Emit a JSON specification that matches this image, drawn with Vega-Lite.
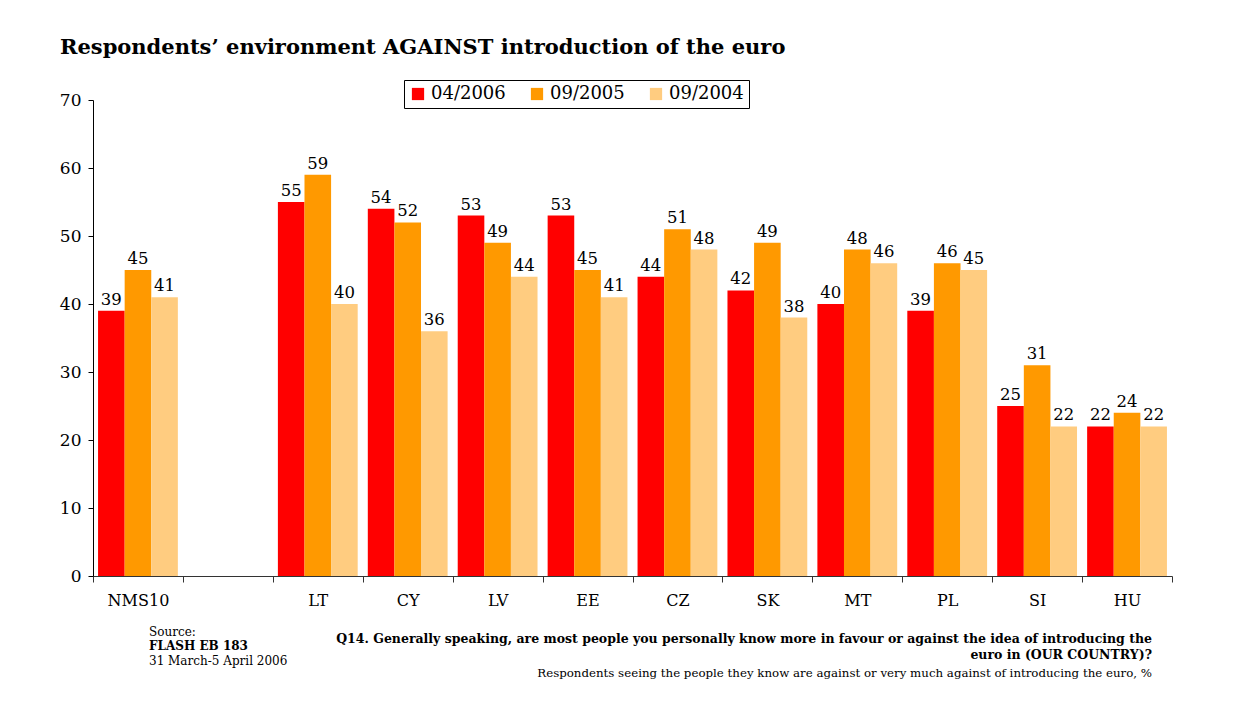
{
  "$schema": "https://vega.github.io/schema/vega-lite/v6.json",
  "width": 1079,
  "height": 476,
  "autosize": {"type": "none"},
  "padding": {"left": 93, "top": 100, "right": 66, "bottom": 151},
  "background": "white",
  "config": {"font": "DejaVu Serif", "view": {"stroke": null}, "text": {"font": "DejaVu Serif"}},
  "title": {
    "text": "Respondents’ environment AGAINST introduction of the euro",
    "anchor": "start",
    "frame": "group",
    "font": "DejaVu Serif",
    "fontSize": 21,
    "fontWeight": "bold",
    "color": "black",
    "dx": -33,
    "offset": 22
  },
  "layer": [
    {
      "data": {
        "values": [
          {"country": "NMS10", "wave": "04/2006", "value": 39},
          {"country": "NMS10", "wave": "09/2005", "value": 45},
          {"country": "NMS10", "wave": "09/2004", "value": 41},
          {"country": "LT", "wave": "04/2006", "value": 55},
          {"country": "LT", "wave": "09/2005", "value": 59},
          {"country": "LT", "wave": "09/2004", "value": 40},
          {"country": "CY", "wave": "04/2006", "value": 54},
          {"country": "CY", "wave": "09/2005", "value": 52},
          {"country": "CY", "wave": "09/2004", "value": 36},
          {"country": "LV", "wave": "04/2006", "value": 53},
          {"country": "LV", "wave": "09/2005", "value": 49},
          {"country": "LV", "wave": "09/2004", "value": 44},
          {"country": "EE", "wave": "04/2006", "value": 53},
          {"country": "EE", "wave": "09/2005", "value": 45},
          {"country": "EE", "wave": "09/2004", "value": 41},
          {"country": "CZ", "wave": "04/2006", "value": 44},
          {"country": "CZ", "wave": "09/2005", "value": 51},
          {"country": "CZ", "wave": "09/2004", "value": 48},
          {"country": "SK", "wave": "04/2006", "value": 42},
          {"country": "SK", "wave": "09/2005", "value": 49},
          {"country": "SK", "wave": "09/2004", "value": 38},
          {"country": "MT", "wave": "04/2006", "value": 40},
          {"country": "MT", "wave": "09/2005", "value": 48},
          {"country": "MT", "wave": "09/2004", "value": 46},
          {"country": "PL", "wave": "04/2006", "value": 39},
          {"country": "PL", "wave": "09/2005", "value": 46},
          {"country": "PL", "wave": "09/2004", "value": 45},
          {"country": "SI", "wave": "04/2006", "value": 25},
          {"country": "SI", "wave": "09/2005", "value": 31},
          {"country": "SI", "wave": "09/2004", "value": 22},
          {"country": "HU", "wave": "04/2006", "value": 22},
          {"country": "HU", "wave": "09/2005", "value": 24},
          {"country": "HU", "wave": "09/2004", "value": 22}
        ]
      },
      "encoding": {
        "x": {
          "field": "country",
          "type": "nominal",
          "scale": {
            "domain": ["NMS10", "", "LT", "CY", "LV", "EE", "CZ", "SK", "MT", "PL", "SI", "HU"],
            "paddingInner": 0,
            "paddingOuter": 0
          },
          "axis": {
            "title": null,
            "labelAngle": 0,
            "tickBand": "extent",
            "tickSize": 6,
            "tickColor": "#333333",
            "domainColor": "#333333",
            "labelFontSize": 16,
            "labelColor": "black",
            "labelPadding": 10
          }
        },
        "xOffset": {
          "field": "wave",
          "type": "nominal",
          "sort": ["04/2006", "09/2005", "09/2004"],
          "scale": {"paddingInner": 0, "paddingOuter": 0.19}
        },
        "y": {
          "field": "value",
          "type": "quantitative",
          "scale": {"domain": [0, 70], "nice": false},
          "axis": {
            "title": null,
            "values": [0, 10, 20, 30, 40, 50, 60, 70],
            "grid": false,
            "domainColor": "black",
            "tickColor": "black",
            "tickSize": 5,
            "labelFontSize": 17,
            "labelColor": "black",
            "labelPadding": 7
          }
        }
      },
      "layer": [
        {
          "mark": {"type": "bar"},
          "encoding": {
            "color": {
              "field": "wave",
              "type": "nominal",
              "scale": {
                "domain": ["04/2006", "09/2005", "09/2004"],
                "range": ["#FF0000", "#FF9900", "#FFCC80"]
              },
              "legend": {
                "title": null,
                "orient": "none",
                "legendX": 311,
                "legendY": -20,
                "direction": "horizontal",
                "symbolType": "square",
                "symbolSize": 150,
                "symbolStrokeWidth": 0,
                "labelFontSize": 18,
                "labelColor": "black",
                "strokeColor": "black",
                "fillColor": "white",
                "padding": 5,
                "columnPadding": 22,
                "labelOffset": 4
              }
            }
          }
        },
        {
          "mark": {"type": "text", "font": "DejaVu Serif", "baseline": "bottom", "dy": -3, "fontSize": 16.5, "color": "black"},
          "encoding": {"text": {"field": "value", "type": "quantitative"}}
        }
      ]
    },
    {
      "data": {"values": [{"label": "Source:"}]},
      "mark": {"type": "text", "font": "DejaVu Serif", "align": "left", "baseline": "middle", "fontSize": 12, "color": "black", "dx": 56, "dy": 56},
      "encoding": {
        "x": {"datum": "NMS10", "bandPosition": 0},
        "y": {"datum": 0},
        "text": {"field": "label"}
      }
    },
    {
      "data": {"values": [{"label": "FLASH EB 183"}]},
      "mark": {"type": "text", "font": "DejaVu Serif", "align": "left", "baseline": "middle", "fontSize": 12, "fontWeight": "bold", "color": "black", "dx": 56, "dy": 70},
      "encoding": {
        "x": {"datum": "NMS10", "bandPosition": 0},
        "y": {"datum": 0},
        "text": {"field": "label"}
      }
    },
    {
      "data": {"values": [{"label": "31 March-5 April 2006"}]},
      "mark": {"type": "text", "font": "DejaVu Serif", "align": "left", "baseline": "middle", "fontSize": 12, "color": "black", "dx": 56, "dy": 85},
      "encoding": {
        "x": {"datum": "NMS10", "bandPosition": 0},
        "y": {"datum": 0},
        "text": {"field": "label"}
      }
    },
    {
      "data": {"values": [{"label": "Q14. Generally speaking, are most people you personally know more in favour or against the idea of introducing the\neuro in (OUR COUNTRY)?"}]},
      "mark": {"type": "text", "font": "DejaVu Serif", "align": "right", "baseline": "middle", "lineBreak": "\n", "lineHeight": 16, "fontSize": 12.5, "fontWeight": "bold", "color": "black", "dx": -20, "dy": 63},
      "encoding": {
        "x": {"datum": "HU", "bandPosition": 1},
        "y": {"datum": 0},
        "text": {"field": "label"}
      }
    },
    {
      "data": {"values": [{"label": "Respondents seeing the people they know are against or very much against of introducing the euro, %"}]},
      "mark": {"type": "text", "font": "DejaVu Serif", "align": "right", "baseline": "middle", "fontSize": 11.8, "color": "black", "dx": -20, "dy": 97},
      "encoding": {
        "x": {"datum": "HU", "bandPosition": 1},
        "y": {"datum": 0},
        "text": {"field": "label"}
      }
    }
  ]
}
